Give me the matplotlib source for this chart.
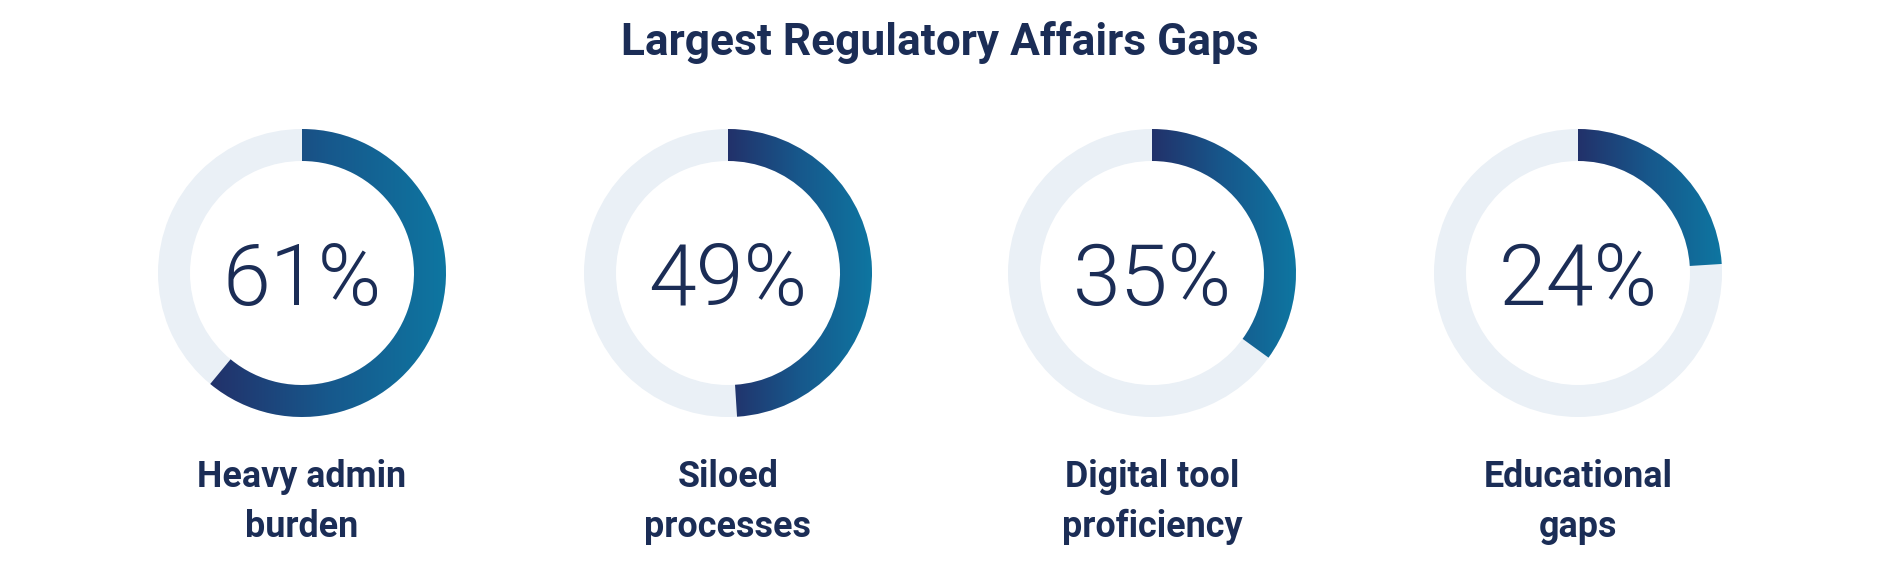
import numpy as np
import matplotlib
matplotlib.use('Agg')
import matplotlib.pyplot as plt
from matplotlib.patches import Wedge
from matplotlib.colors import LinearSegmentedColormap

# Dati del grafico
title = 'Largest Regulatory Affairs Gaps'
percentuali = [61, 49, 35, 24]
etichette = [['Heavy admin', 'burden'],
             ['Siloed', 'processes'],
             ['Digital tool', 'proficiency'],
             ['Educational', 'gaps']]

NAVY = '#1b2d56'
RING_BG = '#eaf0f6'
grad = LinearSegmentedColormap.from_list('grad', ['#22316a', '#17588c', '#0e76a1'])

W, H = 1880, 570
fig = plt.figure(figsize=(W / 100, H / 100), dpi=100)
ax = fig.add_axes([0, 0, 1, 1])
ax.set_xlim(0, W)
ax.set_ylim(0, H)
ax.axis('off')

centri_x = [302, 728, 1152, 1578]
cy = H - 273
r_out, spessore = 144, 32

for cx, p, lab in zip(centri_x, percentuali, etichette):
    ang = 360 * p / 100
    # anello di sfondo
    ax.add_patch(Wedge((cx, cy), r_out, 0, 360, width=spessore,
                       facecolor=RING_BG, edgecolor='none'))
    # arco con gradiente orizzontale
    w = Wedge((cx, cy), r_out, 90 - ang, 90, width=spessore,
              facecolor='none', edgecolor='none')
    ax.add_patch(w)
    t = np.radians(np.linspace(90 - ang, 90, 400))
    xs = np.concatenate([cx + r_out * np.cos(t), cx + (r_out - spessore) * np.cos(t)])
    x0, x1 = xs.min(), xs.max()
    img = ax.imshow(np.linspace(0, 1, 256)[None, :], cmap=grad, aspect='auto',
                    extent=[x0, x1, cy - r_out - 1, cy + r_out + 1],
                    interpolation='bilinear', zorder=2)
    img.set_clip_path(w)

    ax.text(cx, H - 305, f'{p}%', ha='center', va='baseline', color=NAVY,
            fontsize=62, family='Roboto', fontweight=300, zorder=3)
    ax.text(cx, H - 487, lab[0], ha='center', va='baseline', color=NAVY,
            fontsize=25.8, family='Roboto', fontweight='bold')
    ax.text(cx, H - 537, lab[1], ha='center', va='baseline', color=NAVY,
            fontsize=25.8, family='Roboto', fontweight='bold')

ax.text(W / 2, H - 55, title, ha='center', va='baseline', color=NAVY,
        fontsize=31.9, family='Roboto', fontweight='bold')

ax.set_xlim(0, W)
ax.set_ylim(0, H)
fig.savefig('out.png', dpi=100, facecolor='white')
